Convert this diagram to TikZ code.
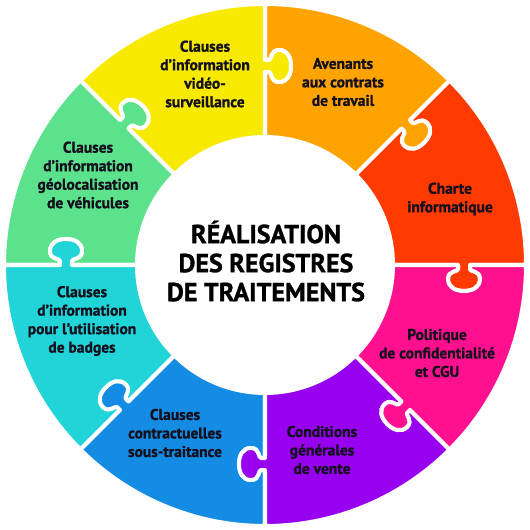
\documentclass[tikz,border=0pt]{standalone}
\usepackage{fontspec}
\setmainfont{PT Sans}[BoldFeatures={FakeBold=1.2}]
\usepackage{tikz}
\definecolor{puzred}{RGB}{255,58,0}
\definecolor{puzorange}{RGB}{255,163,0}
\definecolor{puzyellow}{RGB}{247,234,0}
\definecolor{puzgreen}{RGB}{92,226,140}
\definecolor{puzcyan}{RGB}{32,212,216}
\definecolor{puzblue}{RGB}{20,140,228}
\definecolor{puzpurple}{RGB}{152,0,240}
\definecolor{puzmagenta}{RGB}{255,16,142}
\definecolor{txtdark}{RGB}{20,16,30}

\def\rin{128}
\def\rout{261}
\def\rmid{199}
% knob on the edge turned by #1, #2 = -1 tab going out, 1 slot going back
\newcommand{\knob}[2]{%
  -- ([rotate=#1]\rmid+#2*6,0) -- ([rotate=#1]\rmid+#2*6,-4)
  .. controls ([rotate=#1]\rmid+#2*6,-7) and ([rotate=#1]\rmid+#2*16,-5) .. ([rotate=#1]\rmid+#2*16,-14)
  .. controls ([rotate=#1]\rmid+#2*16,-22) and ([rotate=#1]\rmid+#2*9,-26) .. ([rotate=#1]\rmid,-26)
  .. controls ([rotate=#1]\rmid-#2*9,-26) and ([rotate=#1]\rmid-#2*16,-22) .. ([rotate=#1]\rmid-#2*16,-14)
  .. controls ([rotate=#1]\rmid-#2*16,-5) and ([rotate=#1]\rmid-#2*6,-7) .. ([rotate=#1]\rmid-#2*6,-4)
  -- ([rotate=#1]\rmid-#2*6,0)}

\tikzset{
  piece/.style={fill=#1, draw=white, line width=4pt, line join=round},
  piecetext/.style={font=\bfseries\fontsize{15.5}{18.5}\selectfont, align=center, text=txtdark, inner sep=0pt},
  centertext/.style={font=\bfseries\fontsize{26}{29}\selectfont, align=center, text=black, inner sep=0pt}
}

\begin{document}
\begin{tikzpicture}[x=1pt,y=1pt]
  \fill[white] (-265,-265) rectangle (265,265);

  \foreach \col [count=\i from 0] in {puzred,puzorange,puzyellow,puzgreen,puzcyan,puzblue,puzpurple,puzmagenta}
    \draw[piece=\col, rotate=\i*45] (0:\rin) \knob{0}{-1} -- (0:\rout)
      arc[start angle=0, end angle=45, radius=\rout] \knob{45}{1} -- (45:\rin)
      arc[start angle=45, end angle=0, radius=\rin] -- cycle;

  \node[piecetext] (yellowtxt) at (-60,191) {Clauses\\d’information\\vidéo-\\surveillance};
  \node[piecetext] (orangetxt) at (78,183) {Avenants\\aux contrats\\de travail};
  \node[piecetext] (redtxt) at (185,66) {Charte\\informatique};
  \node[piecetext] (magentatxt) at (172,-88) {Politique\\de confidentialité\\et CGU};
  \node[piecetext] (purpletxt) at (57,-185) {Conditions\\générales\\de vente};
  \node[piecetext] (bluetxt) at (-90,-168) {Clauses\\contractuelles\\sous-traitance};
  \node[piecetext] (cyantxt) at (-183,-56) {Clauses\\d’information\\pour l’utilisation\\de badges};
  \node[piecetext] (greentxt) at (-177,90) {Clauses\\d’information\\géolocalisation\\de véhicules};

  \node[centertext] (title) at (1,4) {RÉALISATION\\DES REGISTRES\\DE TRAITEMENTS};
\end{tikzpicture}
\end{document}
